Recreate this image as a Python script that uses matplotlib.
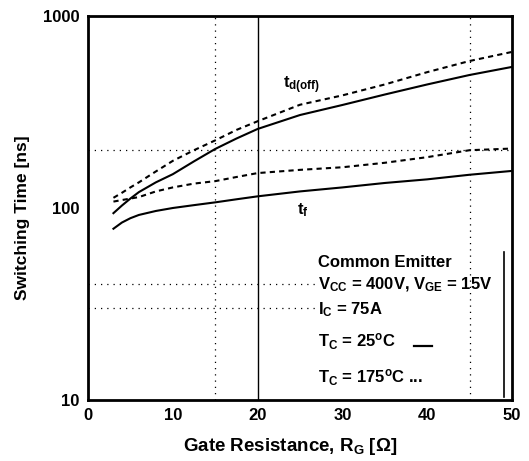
import matplotlib
matplotlib.use("Agg")
import matplotlib.pyplot as plt

plt.rcParams['font.family'] = ['Liberation Sans', 'DejaVu Sans']
plt.rcParams['font.weight'] = 'bold'
plt.rcParams['mathtext.fontset'] = 'custom'
plt.rcParams['mathtext.rm'] = 'Liberation Sans:bold'
plt.rcParams['mathtext.bf'] = 'Liberation Sans:bold'
plt.rcParams['mathtext.it'] = 'Liberation Sans:bold'

# Gate resistance [ohm]
rg = [3, 4, 5, 6, 8, 10, 12.5, 15, 17.5, 20, 25, 30, 35, 40, 45, 50]
# Turn-off delay time [ns]
td_off_25 = [94, 103, 112, 121, 136, 150, 175, 203, 230, 258, 305, 344, 390, 440, 493, 543]
td_off_175 = [113, 120, 128, 136, 155, 176, 200, 225, 255, 283, 345, 386, 440, 510, 583, 650]
# Fall time [ns]
tf_25 = [78, 84, 88.5, 92, 96.5, 100, 103.5, 107, 111, 115, 122, 128, 135, 141, 149, 156]
tf_175 = [108, 110, 112, 114, 122, 128, 134, 138, 145, 152, 158, 163, 172, 184, 200, 204]

x_ticks = [0, 10, 20, 30, 40, 50]
y_ticks = [10, 100, 1000]

W, H = 529, 461
fig = plt.figure(figsize=(W / 100, H / 100), dpi=100)
ax = fig.add_axes([88/W, 61/H, 424/W, 384/H])
ax.set_yscale('log')
ax.set_xlim(0, 50)
ax.set_ylim(10, 1000)

dot = (0, (1, 4))
# reference grid
ax.axvline(15, color='black', lw=0.9, ls=dot)
ax.axvline(45, color='black', lw=0.9, ls=dot)
ax.axvline(20, color='black', lw=1.0)
ax.axhline(200, color='black', lw=0.9, ls=dot)
ax.plot([0, 27], [40, 40], color='black', lw=0.9, ls=dot)
ax.plot([0, 27], [30, 30], color='black', lw=0.9, ls=dot)
# right edge of the conditions box
ax.plot([49.0, 49.0], [10.4, 59], color='black', lw=1.2)

dash = (0, (2.5, 2))
ax.plot(rg, td_off_25, color='black', lw=1.5)
ax.plot(rg, td_off_175, color='black', lw=1.5, ls=dash)
ax.plot(rg, tf_25, color='black', lw=1.5)
ax.plot(rg, tf_175, color='black', lw=1.5, ls=dash)

ax.set_xticks(x_ticks)
ax.set_xticklabels([str(v) for v in x_ticks], fontsize=12, fontweight='bold')
ax.set_yticks(y_ticks)
ax.set_yticklabels([str(v) for v in y_ticks], fontsize=12, fontweight='bold')
ax.yaxis.set_minor_locator(matplotlib.ticker.NullLocator())
ax.tick_params(axis='both', length=0, pad=6)
for s in ax.spines.values():
    s.set_linewidth(2)

fig.text(290/W, 1 - 446/H, 'Gate Resistance, R$_\\mathrm{G}$ [Ω]', fontsize=13.5,
         fontweight='bold', ha='center', va='center')
fig.text(23/W, 1 - 218/H, 'Switching Time [ns]', fontsize=12.5, fontweight='bold',
         ha='center', va='center', rotation=90)

ax.text(23.0, 436, r'$\mathrm{t}_{\mathrm{d(off)}}$', fontsize=12, ha='left', va='center')
ax.text(24.6, 97, r'$\mathrm{t}_{\mathrm{f}}$', fontsize=12, ha='left', va='center')

tx = 27.1
fs = 12
ax.text(tx, 52, 'Common Emitter', fontsize=fs, fontweight='bold', va='center')
ax.text(tx, 40, r'V$_\mathrm{CC}$ = 400V, V$_\mathrm{GE}$ = 15V', fontsize=fs, fontweight='bold', va='center')
ax.text(tx, 29.4, r'I$_\mathrm{C}$ = 75A', fontsize=fs, fontweight='bold', va='center')
ax.text(tx, 20.2, r'T$_\mathrm{C}$ = 25$^\mathrm{o}$C', fontsize=fs, fontweight='bold', va='center')
ax.plot([38.5, 40.6], [19.2, 19.2], color='black', lw=1.6)
ax.text(tx, 13.0, r'T$_\mathrm{C}$ = 175$^\mathrm{o}$C ...', fontsize=fs, fontweight='bold', va='center')

fig.savefig('out.png', dpi=100)
